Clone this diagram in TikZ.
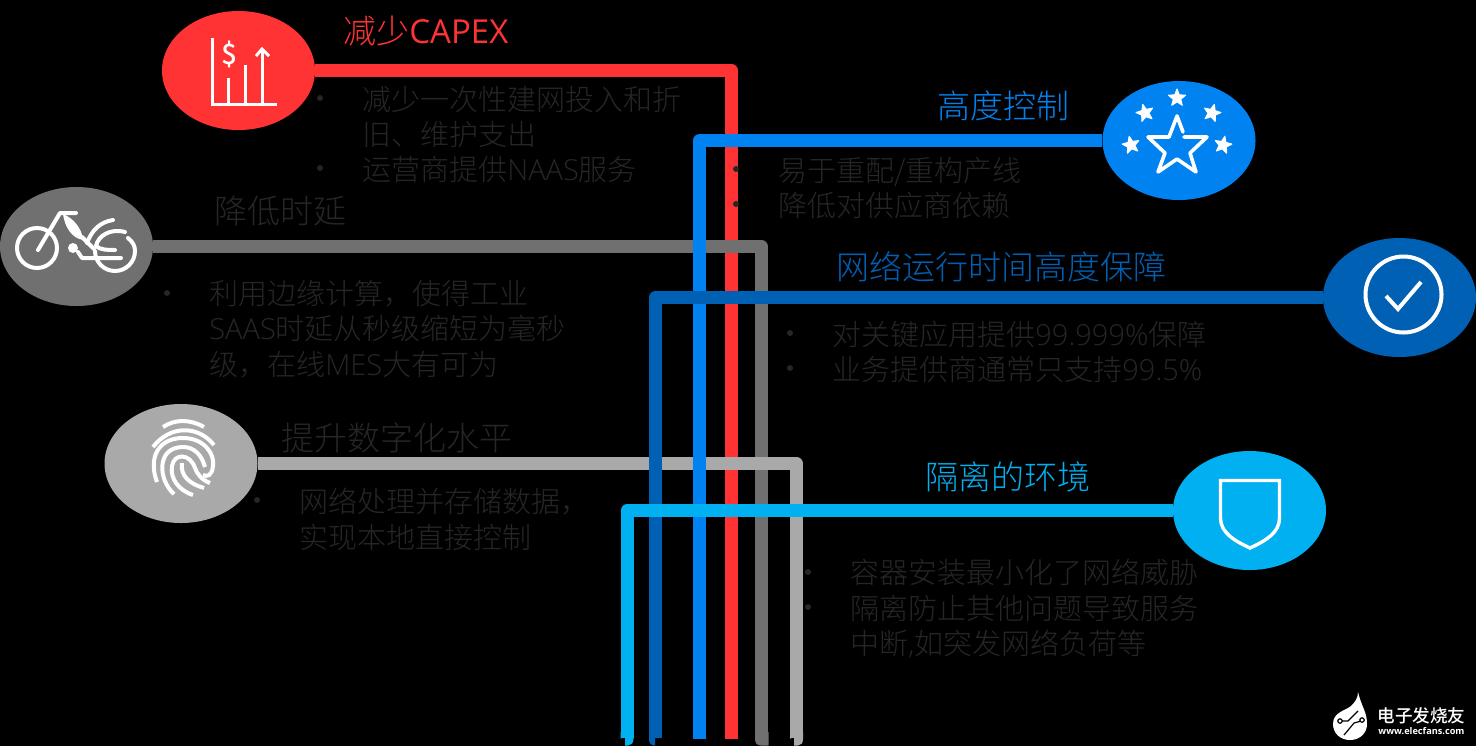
\documentclass[tikz,border=0pt]{standalone}
\usepackage{fontspec}
\setmainfont{Noto Sans CJK SC}[UprightFont=* Light,BoldFont=* Medium]
\newfontfamily\lat{Open Sans}[UprightFont=* Light,BoldFont=* Bold]
\newfontfamily\latr{Open Sans}
\usetikzlibrary{calc,shapes.geometric}
\definecolor{cred}{HTML}{FF3333}
\definecolor{cblue}{HTML}{0082F0}
\definecolor{cdark}{HTML}{0060B4}
\definecolor{ccyan}{HTML}{00B0F0}
\definecolor{cgray}{HTML}{707070}
\definecolor{clight}{HTML}{A9A9A9}
\definecolor{ctext}{HTML}{262626}
\tikzset{
  x=0.5pt,y=-0.5pt,
  bub/.style={ellipse,minimum width=76.5pt,minimum height=59.5pt,inner sep=0pt,draw=none},
  wire/.style={line width=6.5pt,line join=round},
  ttl/.style={font=\fontsize{16.5pt}{20pt}\selectfont,anchor=west,inner sep=0pt},
  body/.style={font=\fontsize{14.5pt}{17.6pt}\selectfont,text=ctext,anchor=north west,inner sep=0pt,align=left},
  dot/.style={circle,fill=black!85!white,minimum size=3pt,inner sep=0pt},
  ico/.style={draw=white,line width=1.5pt},
  istar/.style={star,star points=5,star point ratio=2.3,fill=white,draw=white,line join=round,line width=.5pt,minimum size=9pt,inner sep=0pt}
}
\begin{document}
\begin{tikzpicture}
\useasboundingbox[fill=black] (0,0) rectangle (1476,746);
% bubbles
\node[bub,fill=cred]   (capex) at (238.5,70.5) {};
\node[bub,fill=cblue]  (ctrl)  at (1179,140.5) {};
\node[bub,fill=cgray]  (lat)   at (76.5,246.5) {};
\node[bub,fill=cdark]  (up)    at (1399.5,297.5) {};
\node[bub,fill=clight] (dig)   at (181,463.5) {};
\node[bub,fill=ccyan]  (iso)   at (1249.5,510.5) {};
% free ends
\coordinate (e1) at (731.5,739);
\coordinate (e2) at (699.5,739);
\coordinate (e3) at (761.5,738);
\coordinate (e4) at (655.5,738);
\coordinate (e5) at (796.5,738);
\coordinate (e6) at (627,738);
% wires, bottom to top
\draw[wire,cred]  (capex.east) -- (e1 |- capex.east) -- (e1);
\draw[wire,cgray] (lat.east) -- (e3 |- lat.east) -- (e3);
\fill[cgray] (755,736) -- (755,739) .. controls (755,743) and (757,745.5) .. (761,745.5) -- (768.5,745.5) -- (768.5,732) -- (755,732) -- cycle;
\draw[wire,clight](dig.east) -- (e5 |- dig.east) -- (e5);
\fill[clight] (790,739) -- (794,735) -- (794,745.5) -- (798,745.5) .. controls (801,745.5) and (803,743) .. (803,739) -- (803,732) -- (790,732) -- cycle;
\draw[wire,cblue] (ctrl.west) -- (e2 |- ctrl.west) -- (e2);
\draw[wire,cdark] (up.west) -- (e4 |- up.west) -- (e4);
\fill[cdark] (649,732) -- (649,739) .. controls (649,743) and (651,745.5) .. (655,745.5) -- (655,733) -- (661.8,738) -- (661.8,732) -- cycle;
\draw[wire,ccyan] (iso.west) -- (e6 |- iso.west) -- (e6);
\fill[ccyan] (620.5,739) -- (625,735) -- (625,745.5) -- (628,745.5) .. controls (631,745.5) and (633.5,743) .. (633.5,739) -- (633.5,732) -- (620.5,732) -- cycle;
% titles
\node[ttl,text=cred]  (t1) at (343,31) {减少{\latr CAPEX}};
\node[ttl,text=cblue] (t2) at (937,106) {高度控制};
\node[ttl,text=ctext] (t3) at (214,211) {降低时延};
\node[ttl,text=cdark] (t4) at (836,267) {网络运行时间高度保障};
\node[ttl,text=ctext] (t5) at (281,438) {提升数字化水平};
\node[ttl,text=ccyan] (t6) at (925,477) {隔离的环境};
% bodies
\node[body] (b1) at (362,85.5) {减少一次性建网投入和折\\旧、维护支出\\运营商提供{\lat NAAS}服务};
\node[dot] (d11) at (320,98) {}; \node[dot] (d12) at (320,168) {};
\node[body] (b2) at (778,156.5) {易于重配/重构产线\\降低对供应商依赖};
\node[dot] (d21) at (736,169) {}; \node[dot] (d22) at (736,204) {};
\node[body] (b3) at (209,280) {利用边缘计算，使得工业\\{\lat SAAS}时延从秒级缩短为毫秒\\级，在线{\lat MES}大有可为};
\node[dot] (d31) at (167,293) {};
\node[body] (b4) at (832,320.5) {对关键应用提供{\lat 99.999\%}保障\\业务提供商通常只支持{\lat 99.5\%}};
\node[dot] (d41) at (790,333) {}; \node[dot] (d42) at (790,368) {};
\node[body] (b5) at (299,488) {网络处理并存储数据，\\实现本地直接控制};
\node[dot] (d51) at (257,500) {};
\node[body] (b6) at (850,559) {容器安装最小化了网络威胁\\隔离防止其他问题导致服务\\中断{\lat ,}如突发网络负荷等};
\node[dot] (d61) at (808,572) {}; \node[dot] (d62) at (808,607) {};
% capex icon
\begin{scope}[ico,line cap=butt]
\draw (212,38) -- (212,104) -- (277,104);
\draw (228,104) -- (228,78);
\draw (245,104) -- (245,65);
\draw (262,104) -- (262,49);
\draw (256,56) -- (262,49) -- (269,56);
\end{scope}
\node[text=white,font=\fontsize{14pt}{14pt}\selectfont\bfseries,inner sep=0pt] (dollar) at (229,54) {\$};
% stars icon
\node[istar,rotate=0]  (s1) at (1177,98) {};
\node[istar,rotate=15] (s2) at (1145,113) {};
\node[istar,rotate=-15](s3) at (1212,113) {};
\node[istar,rotate=12] (s4) at (1131,145) {};
\node[istar,rotate=-12](s5) at (1223,145) {};
\draw[ico,line width=1.8pt,line join=round,line cap=round] (1183,132) -- (1177,116) -- (1169,137) -- (1148,137) -- (1165,153)
  -- (1158,172) -- (1177,159) -- (1196,172) -- (1190,153) -- (1207,137) -- (1184,137);
% bicycle icon
\begin{scope}[ico,line width=2pt,line cap=round,line join=round,fill=none]
\draw (37,248) circle (20);
\draw (38,250) -- (60,213) -- (76,213);
\draw (128,238) .. controls (133,242) and (135,246) .. (135,251) .. controls (135,262) and (126,271) .. (115,271) .. controls (104,271) and (95,262) .. (95,251);
\draw (113,220) .. controls (100,222) and (92,230) .. (87,243);
\draw (125,232) .. controls (110,228) and (98,236) .. (96,246) .. controls (100,250) and (108,250) .. (115,250);
\draw (78,252) -- (82,258) -- (121,258);
\draw (82,237) -- (94,249);
\end{scope}
\fill[white] (63,214) .. controls (73,218) and (82,228) .. (83,240) .. controls (72,238) and (65,228) .. (63,214) -- cycle;
\fill[white] (73,248) circle (5);
% fingerprint icon
\begin{scope}[ico,line width=2pt,fill=none]
\draw (163,427) .. controls (175,419) and (190,419) .. (204,427);
\draw (153,447) .. controls (170,425) and (198,425) .. (214,445);
\draw (157,482) .. controls (148,458) and (158,438) .. (183,438) .. controls (205,438) and (215,455) .. (213,466) .. controls (212,476) and (207,477) .. (203,475);
\draw (174,494) .. controls (158,480) and (156,447) .. (183,447) .. controls (195,447) and (202,456) .. (205,467);
\draw (193,495) .. controls (178,490) and (170,478) .. (172,466) .. controls (174,453) and (190,453) .. (195,468) .. controls (197,474) and (202,480) .. (210,483);
\draw (204,488) .. controls (190,484) and (180,476) .. (182,463);
\end{scope}
% check icon
\draw[ico,line width=2pt] (1403.5,294.5) circle (38);
\draw[ico,line width=2pt] (1386,296) -- (1398,309) -- (1421,282);
% shield icon
\draw[ico,line width=1.7pt,line join=miter] (1220.5,480.5) -- (1279.5,480.5) -- (1279.5,518) .. controls (1279.5,533) and (1265,541) .. (1250,548) .. controls (1235,541) and (1220.5,533) .. (1220.5,518) -- cycle;
% logo
\fill[white] (1358,692) .. controls (1362,708) and (1367,712) .. (1367,724) .. controls (1367,733) and (1360,740) .. (1350,740) .. controls (1340,740) and (1333,733) .. (1333,724) .. controls (1333,712) and (1345,711) .. (1351,706) .. controls (1355,702) and (1358,698) .. (1358,692) -- cycle;
\draw[black,line width=.6pt] (1342,721) -- (1348,721) -- (1358,711);
\draw[black,line width=.6pt] (1344,735) -- (1354,723) -- (1361,721);
\filldraw[fill=white,draw=black,line width=.6pt] (1340,721) circle (2.2) (1362,720) circle (2.2);
\node[text=white,font=\fontsize{8.8pt}{10pt}\selectfont\bfseries,anchor=west,inner sep=0pt] (lg1) at (1377,716) {电子发烧友};
\node[text=white,font=\fontsize{4.6pt}{5pt}\selectfont\lat\bfseries,anchor=west,inner sep=0pt] (lg2) at (1378,731) {www.elecfans.com};
\end{tikzpicture}
\end{document}
